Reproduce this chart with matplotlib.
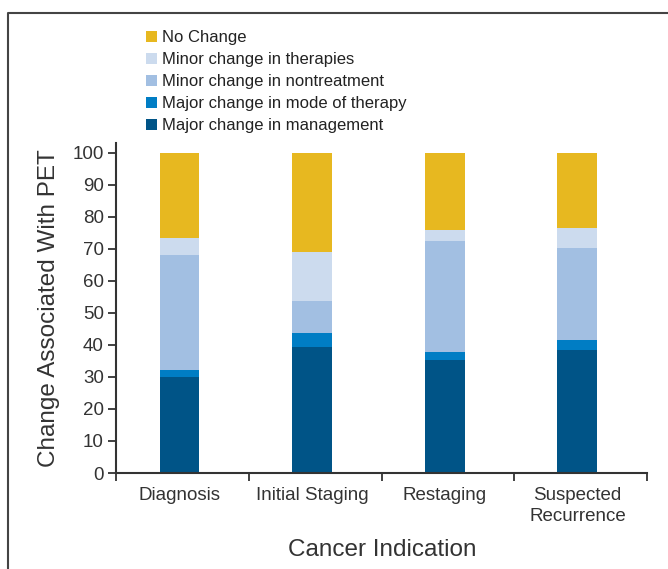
import matplotlib
matplotlib.use("Agg")
import matplotlib.pyplot as plt
from matplotlib.lines import Line2D
from matplotlib.patches import Patch

# Dados do grafico
categories = ["Diagnosis", "Initial Staging", "Restaging", "Suspected\nRecurrence"]
series_names = ["Major change in management", "Major change in mode of therapy",
                "Minor change in nontreatment", "Minor change in therapies", "No Change"]
management = [30.0, 39.3, 35.3, 38.4]
mode_therapy = [2.1, 4.5, 2.5, 3.1]
nontreatment = [36.0, 9.9, 34.7, 28.8]
therapies = [5.4, 15.4, 3.4, 6.2]
no_change = [26.5, 30.9, 24.1, 23.5]
colors = ["#005487", "#007DC4", "#A2BFE2", "#CCDBEE", "#E7B820"]

plt.rcParams["font.family"] = ["Liberation Sans", "DejaVu Sans"]

fig = plt.figure(figsize=(6.68, 5.69), dpi=100)
ax = fig.add_axes([0.1744, 0.1687, 0.7942, 0.58])

# barras empilhadas (ligeiramente a esquerda do centro, como no original)
x = [i - 0.025 for i in range(len(categories))]
bottom = [0.0] * len(categories)
for vals, name, col in zip([management, mode_therapy, nontreatment, therapies, no_change],
                           series_names, colors):
    ax.bar(x, vals, width=0.3, bottom=bottom, color=col, label=name)
    bottom = [b + v for b, v in zip(bottom, vals)]

ax.set_xlim(-0.5, 3.5)
ax.set_ylim(0, 103)
ax.set_yticks(range(0, 101, 10))
ax.set_xticks(x)
ax.set_xticklabels(categories, fontsize=13.5, color="#333333", linespacing=1.35)
ax.set_xticks([-0.5, 0.5, 1.5, 2.5, 3.5], minor=True)
ax.tick_params(axis="x", which="major", length=0, pad=10)
ax.tick_params(axis="x", which="minor", length=6, width=1.3, color="#333333", direction="out")
ax.tick_params(axis="y", length=6, width=1.3, color="#333333", labelsize=13.5,
               labelcolor="#333333", pad=3)

for s in ["top", "right"]:
    ax.spines[s].set_visible(False)
for s in ["left", "bottom"]:
    ax.spines[s].set_linewidth(1.5)
    ax.spines[s].set_color("#333333")

ax.set_ylabel("Change Associated With PET", fontsize=17.5, color="#333333", labelpad=9)
ax.set_xlabel("Cancer Indication", fontsize=17.5, color="#333333", labelpad=10)

# legenda (ordem invertida)
handles = [Patch(facecolor=c, edgecolor="none") for c in colors][::-1]
labels = series_names[::-1]
fig.legend(handles, labels, loc="upper left", bbox_to_anchor=(0.219, 0.947),
           frameon=False, fontsize=12, handlelength=0.65, handleheight=0.65,
           handletextpad=0.3, labelspacing=0.42, labelcolor="#222222",
           borderaxespad=0, borderpad=0)

# moldura exterior
yt = 1 - 13 / 569
xl = 8 / 668
fig.add_artist(Line2D([xl, xl, 1.0], [0.0, yt, yt], color="#444444", lw=1.5,
                      transform=fig.transFigure))

fig.savefig("out.png", dpi=100)
